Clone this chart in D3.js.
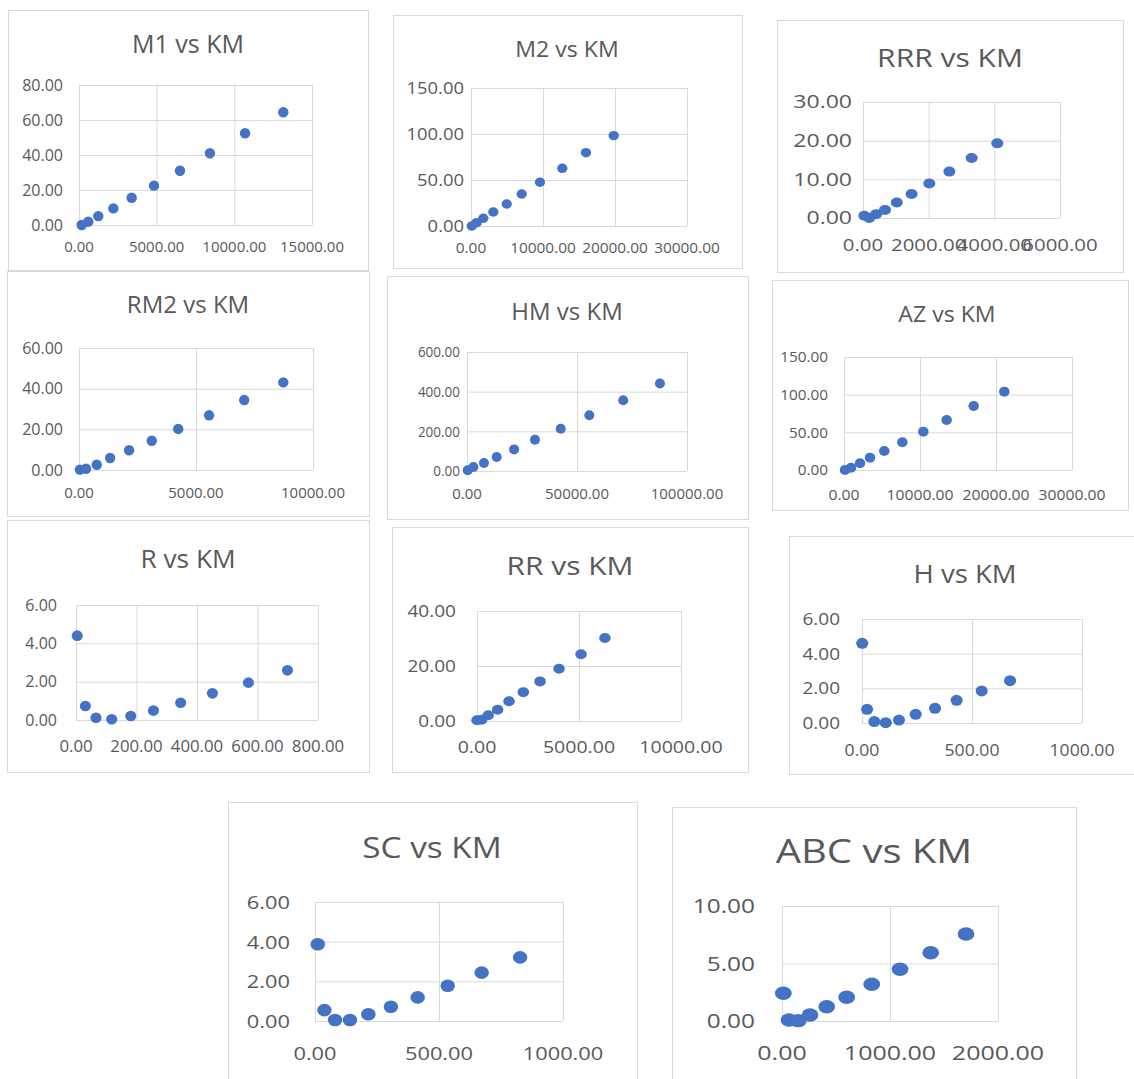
<!DOCTYPE html>
<html lang="en">
<head>
<meta charset="utf-8"/>
<title>Parameters vs KM</title>
<script src="https://cdn.jsdelivr.net/npm/d3@7/dist/d3.min.js"></script>
<style>
  body { margin: 0; background: #fff; }
  text { font-family: "Open Sans", sans-serif; fill: #595959; }
  .grid line { stroke: #d9d9d9; stroke-width: 1; }
  .grid path { display: none; }
</style>
</head>
<body>
<div id="chart-holder"></div>
<script>

// values (x = KM, y = parameter)
var m1Km   = [170, 600, 1240, 2210, 3390, 4830, 6500, 8430, 10690, 13150];
var m1Val  = [0.0, 1.9, 5.1, 9.5, 15.6, 22.5, 31.0, 41.0, 52.4, 64.4];
var m2Km   = [100, 790, 1710, 3100, 4960, 7040, 9580, 12680, 15970, 19820];
var m2Val  = [0.0, 3.6, 8.4, 15.2, 23.9, 34.8, 47.5, 62.7, 79.7, 98.2];
var rrrKm  = [40, 190, 400, 670, 1030, 1480, 2020, 2630, 3310, 4090];
var rrrVal = [0.6, 0.0, 1.0, 2.1, 4.0, 6.2, 8.9, 12.0, 15.5, 19.3];
var rm2Km  = [40, 300, 760, 1330, 2140, 3110, 4240, 5560, 7060, 8730];
var rm2Val = [0.2, 0.6, 2.6, 5.9, 9.7, 14.4, 20.2, 26.9, 34.4, 43.1];
var hmKm   = [300, 2900, 7700, 13500, 21400, 30900, 42600, 55600, 71000, 87700];
var hmVal  = [3.5, 20, 40, 71, 109, 158, 213, 281, 357, 441];
var azKm   = [130, 920, 2110, 3420, 5300, 7680, 10440, 13510, 17060, 21090];
var azVal  = [0.0, 3.1, 8.9, 16.4, 25.2, 36.8, 50.9, 66.4, 85.0, 104.0];
var rKm    = [4, 31, 66, 118, 181, 256, 346, 451, 570, 699];
var rVal   = [4.40, 0.73, 0.12, 0.04, 0.21, 0.49, 0.90, 1.39, 1.95, 2.59];
var rrKm   = [0, 230, 550, 1010, 1570, 2270, 3090, 4020, 5100, 6270];
var rrVal  = [0.25, 0.47, 2.1, 4.1, 7.2, 10.5, 14.4, 19.0, 24.3, 30.2];
var hKm    = [1, 23, 56, 108, 168, 244, 332, 430, 544, 673];
var hVal   = [4.60, 0.79, 0.08, 0.02, 0.17, 0.50, 0.85, 1.31, 1.85, 2.44];
var scKm   = [11, 38, 81, 141, 215, 306, 414, 535, 672, 827];
var scVal  = [3.87, 0.55, 0.05, 0.05, 0.34, 0.72, 1.19, 1.78, 2.44, 3.21];
var abcKm  = [12, 65, 151, 259, 414, 599, 831, 1093, 1377, 1704];
var abcVal = [2.41, 0.09, 0.03, 0.52, 1.24, 2.06, 3.19, 4.50, 5.94, 7.57];

// axis tick values
var m1XTicks  = [0, 5000, 10000, 15000],  m1YTicks  = [0, 20, 40, 60, 80];
var m2XTicks  = [0, 10000, 20000, 30000], m2YTicks  = [0, 50, 100, 150];
var rrrXTicks = [0, 2000, 4000, 6000],    rrrYTicks = [0, 10, 20, 30];
var rm2XTicks = [0, 5000, 10000],         rm2YTicks = [0, 20, 40, 60];
var hmXTicks  = [0, 50000, 100000],       hmYTicks  = [0, 200, 400, 600];
var azXTicks  = [0, 10000, 20000, 30000], azYTicks  = [0, 50, 100, 150];
var rXTicks   = [0, 200, 400, 600, 800],  rYTicks   = [0, 2, 4, 6];
var rrXTicks  = [0, 5000, 10000],         rrYTicks  = [0, 20, 40];
var hXTicks   = [0, 500, 1000],           hYTicks   = [0, 2, 4, 6];
var scXTicks  = [0, 500, 1000],           scYTicks  = [0, 2, 4, 6];
var abcXTicks = [0, 1000, 2000],          abcYTicks = [0, 5, 10];

// panel layout: box/plot = [left, top, right, bottom] in page px
// sx = horizontal stretch of the pasted picture, yfs/ysx = y label size/stretch
var panels = [
  { title: "M1 vs KM",  x: m1Km,  y: m1Val,  xt: m1XTicks,  yt: m1YTicks,
    box: [8, 10, 368, 270],    plot: [79, 85, 312, 225],   tx: 188, ty: 53,  ts: 25, fs: 15, yfs: 16, ysx: 1.0, gap: 16, xdy: 27, sx: 1.0,  r: 5.2 },
  { title: "M2 vs KM",  x: m2Km,  y: m2Val,  xt: m2XTicks,  yt: m2YTicks,
    box: [393, 15, 742, 268],  plot: [471, 88, 687, 226],  tx: 567, ty: 57,  ts: 21, fs: 14, yfs: 16, ysx: 1.15, gap: 7, xdy: 27, sx: 1.1,  r: 4.7 },
  { title: "RRR vs KM", x: rrrKm, y: rrrVal, xt: rrrXTicks, yt: rrrYTicks,
    box: [777, 20, 1123, 272], plot: [863, 102, 1060, 218], tx: 950, ty: 67, ts: 25, fs: 17, yfs: 18, ysx: 1.28, gap: 11, xdy: 33, sx: 1.2,  r: 5 },
  { title: "RM2 vs KM", x: rm2Km, y: rm2Val, xt: rm2XTicks, yt: rm2YTicks,
    box: [7, 271, 369, 516],   plot: [79, 348, 313, 470],  tx: 188, ty: 313, ts: 24, fs: 15, yfs: 16, ysx: 1.0, gap: 16, xdy: 28, sx: 1.0,  r: 5.2 },
  { title: "HM vs KM",  x: hmKm,  y: hmVal,  xt: hmXTicks,  yt: hmYTicks,
    box: [387, 276, 748, 519], plot: [467, 352, 687, 471], tx: 567, ty: 320, ts: 24, fs: 15, yfs: 14.5, ysx: 0.93, gap: 7, xdy: 28, sx: 1.0,  r: 5 },
  { title: "AZ vs KM",  x: azKm,  y: azVal,  xt: azXTicks,  yt: azYTicks,
    box: [772, 280, 1128, 510], plot: [844, 357, 1072, 470], tx: 947, ty: 322, ts: 22, fs: 15, yfs: 15, ysx: 1.02, gap: 16, xdy: 30, sx: 1.05, r: 5 },
  { title: "R vs KM",   x: rKm,   y: rVal,   xt: rXTicks,   yt: rYTicks,
    box: [7, 520, 369, 772],   plot: [76, 605, 318, 720],  tx: 188, ty: 568, ts: 25, fs: 16, yfs: 16, ysx: 1.0, gap: 19, xdy: 32, sx: 1.05, r: 5.3 },
  { title: "RR vs KM",  x: rrKm,  y: rrVal,  xt: rrXTicks,  yt: rrYTicks,
    box: [392, 527, 748, 772], plot: [477, 611, 681, 721], tx: 570, ty: 575, ts: 26, fs: 17, yfs: 17, ysx: 1.12, gap: 21, xdy: 32, sx: 1.15, r: 5 },
  { title: "H vs KM",   x: hKm,   y: hVal,   xt: hXTicks,   yt: hYTicks,
    box: [789, 536, 1140, 774], plot: [862, 619, 1082, 723], tx: 965, ty: 583, ts: 25, fs: 16, yfs: 16.5, ysx: 1.15, gap: 22, xdy: 33, sx: 1.1,  r: 5.5 },
  { title: "SC vs KM",  x: scKm,  y: scVal,  xt: scXTicks,  yt: scYTicks,
    box: [228, 802, 637, 1100], plot: [315, 902, 563, 1021], tx: 432, ty: 858, ts: 29, fs: 19, yfs: 19, ysx: 1.15, gap: 25, xdy: 39, sx: 1.15, r: 6.3 },
  { title: "ABC vs KM", x: abcKm, y: abcVal, xt: abcXTicks, yt: abcYTicks,
    box: [672, 807, 1076, 1100], plot: [782, 906, 998, 1021], tx: 874, ty: 863, ts: 32, fs: 20, yfs: 20, ysx: 1.22, gap: 27, xdy: 39, sx: 1.25, r: 6.7 }
];

var fmt = d3.format(".2f");

var svg = d3.select("#chart-holder")
  .append("svg")
  .attr("width", 1134)
  .attr("height", 1079);

panels.forEach(drawPanel);

function drawPanel(p) {
  var g = svg.append("g");

  // chart frame
  g.append("rect")
    .attr("x", p.box[0] + 0.5)
    .attr("y", p.box[1] + 0.5)
    .attr("width", p.box[2] - p.box[0])
    .attr("height", p.box[3] - p.box[1])
    .attr("fill", "#fff")
    .attr("stroke", "#d9d9d9");

  var x = d3.scaleLinear().domain(d3.extent(p.xt)).range([p.plot[0], p.plot[2]]);
  var y = d3.scaleLinear().domain(d3.extent(p.yt)).range([p.plot[3], p.plot[1]]);

  // gridlines
  g.append("g")
    .attr("class", "grid")
    .attr("transform", "translate(0," + p.plot[3] + ")")
    .call(d3.axisBottom(x).tickValues(p.xt).tickSize(-(p.plot[3] - p.plot[1])).tickFormat(""));
  g.append("g")
    .attr("class", "grid")
    .attr("transform", "translate(" + p.plot[0] + ",0)")
    .call(d3.axisLeft(y).tickValues(p.yt).tickSize(-(p.plot[2] - p.plot[0])).tickFormat(""));

  // tick labels
  g.selectAll(".xlab")
    .data(p.xt)
    .enter()
    .append("text")
    .attr("class", "xlab")
    .attr("transform", function(d) {
      return "translate(" + x(d) + "," + (p.plot[3] + p.xdy) + ") scale(" + p.sx + ",1)";
    })
    .attr("text-anchor", "middle")
    .style("font-size", p.fs + "px")
    .text(fmt);

  g.selectAll(".ylab")
    .data(p.yt)
    .enter()
    .append("text")
    .attr("class", "ylab")
    .attr("transform", function(d) {
      return "translate(" + (p.plot[0] - p.gap) + "," + y(d) + ") scale(" + p.ysx + ",1)";
    })
    .attr("text-anchor", "end")
    .attr("dy", "0.36em")
    .style("font-size", p.yfs + "px")
    .text(fmt);

  // title
  g.append("text")
    .attr("transform", "translate(" + p.tx + "," + p.ty + ") scale(" + p.sx + ",1)")
    .attr("text-anchor", "middle")
    .style("font-size", p.ts + "px")
    .text(p.title);

  // markers
  g.selectAll(".pt")
    .data(d3.zip(p.x, p.y))
    .enter()
    .append("ellipse")
    .attr("class", "pt")
    .attr("cx", function(d) { return x(d[0]); })
    .attr("cy", function(d) { return y(d[1]); })
    .attr("rx", p.r * p.sx)
    .attr("ry", p.r)
    .attr("fill", "#4472c4");
}
</script>
</body>
</html>
